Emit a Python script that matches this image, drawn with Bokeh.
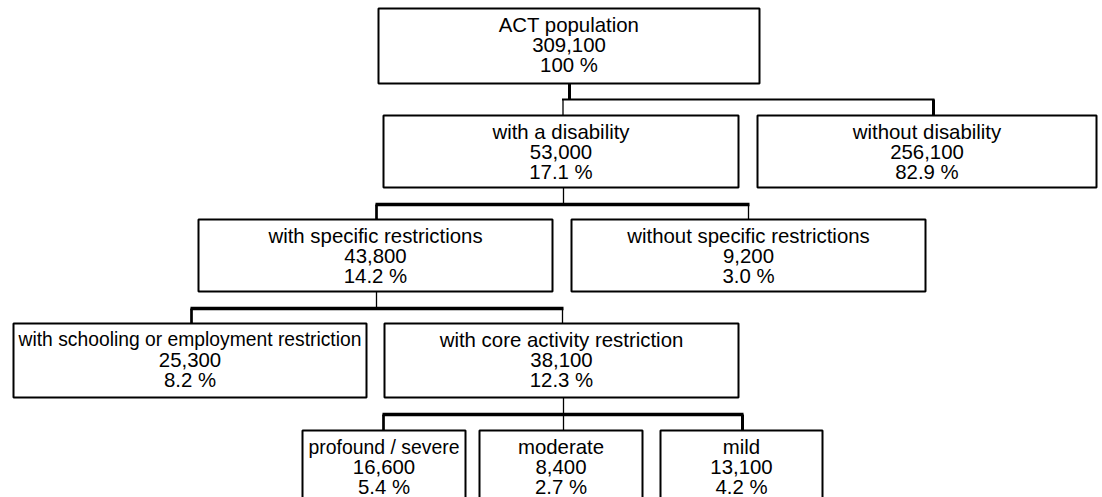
from bokeh.plotting import figure
from bokeh.models import Range1d, ColumnDataSource
from bokeh.embed import file_html
from bokeh.resources import INLINE
from bokeh.core.properties import value

# ---- data ----
labels = ["ACT population", "with a disability", "without disability",
          "with specific restrictions", "without specific restrictions",
          "with schooling or employment restriction", "with core activity restriction",
          "profound / severe", "moderate", "mild"]
counts = [309100, 53000, 256100, 43800, 9200, 25300, 38100, 16600, 8400, 13100]
percents = [100, 17.1, 82.9, 14.2, 3.0, 8.2, 12.3, 5.4, 2.7, 4.2]
parents = [None, 0, 0, 1, 1, 3, 3, 6, 6, 6]

# ---- layout (page pixel coordinates) ----
box_left = [378, 383, 757, 198, 571, 13, 384, 302, 479, 660]
box_right = [759, 738, 1096, 552, 925, 366, 738, 465, 642, 822]
box_top = [8, 115, 115, 219, 219, 323, 323, 430, 430, 430]
box_bottom = [83, 187, 187, 291, 291, 397, 397, 540, 540, 540]
label_size = [20.4, 20.4, 20.4, 20.4, 20.4, 19.3, 20.4, 19.4, 20.4, 20.4]
stem_x = {0: 569, 1: 563, 3: 376, 6: 563}
stem_w = {0: 3, 1: 1.3, 3: 1.3, 6: 1.3}
bar_y = {0: 99, 1: 204, 3: 308, 6: 414}
bar_w = {0: 2, 1: 3.5, 3: 3.5, 6: 3.5}
drop_x = [None, 562.5, 933, 376, 748, 191, 562, 383, 563, 742]
drop_w = [None, 1.3, 3, 2.7, 1.3, 2.7, 1.3, 2.7, 1.3, 3]

W, H = 1102, 497
p = figure(width=W, height=H, x_range=Range1d(0, W), y_range=Range1d(H, 0),
           x_axis_type=None, y_axis_type=None, min_border=0,
           toolbar_location=None, output_backend="svg")
p.grid.visible = False
p.outline_line_color = None
p.background_fill_color = "white"
p.border_fill_color = "white"

# connectors
sx0, sy0, sx1, sy1, sw = [], [], [], [], []
for par in stem_x:
    kids = [i for i, q in enumerate(parents) if q == par]
    sx0.append(stem_x[par]); sy0.append(box_bottom[par])
    sx1.append(stem_x[par]); sy1.append(bar_y[par]); sw.append(stem_w[par])
    xs = [drop_x[k] for k in kids] + [stem_x[par]]
    sx0.append(min(xs) - 1); sy0.append(bar_y[par])
    sx1.append(max(xs) + 1); sy1.append(bar_y[par]); sw.append(bar_w[par])
    for k in kids:
        sx0.append(drop_x[k]); sy0.append(bar_y[par])
        sx1.append(drop_x[k]); sy1.append(box_top[k]); sw.append(drop_w[k])
seg = ColumnDataSource(dict(x0=sx0, y0=sy0, x1=sx1, y1=sy1, w=sw))
p.segment("x0", "y0", "x1", "y1", source=seg, line_color="black", line_width="w")

# boxes
boxes = ColumnDataSource(dict(left=box_left, right=box_right, top=box_top, bottom=box_bottom))
p.quad(left="left", right="right", top="top", bottom="bottom", source=boxes,
       fill_color="white", line_color="black", line_width=2)

# texts
tx, ty, tt, ts = [], [], [], []
for i, lab in enumerate(labels):
    cx = (box_left[i] + box_right[i]) / 2
    pct = "100 %" if percents[i] == 100 else f"{percents[i]:.1f} %"
    for j, s in enumerate([lab, f"{counts[i]:,}", pct]):
        tx.append(cx); ty.append(box_top[i] + 16 + 20.3 * j); tt.append(s)
        ts.append(f"{label_size[i] if j == 0 else 20.4}px")
txt = ColumnDataSource(dict(x=tx, y=ty, text=tt, size=ts))
p.text(x="x", y="y", text="text", source=txt, text_align="center", text_baseline="middle",
       text_font=value("Liberation Sans"), text_font_size="size", text_color="#000000")

open("out.html", "w").write(file_html(p, INLINE))
